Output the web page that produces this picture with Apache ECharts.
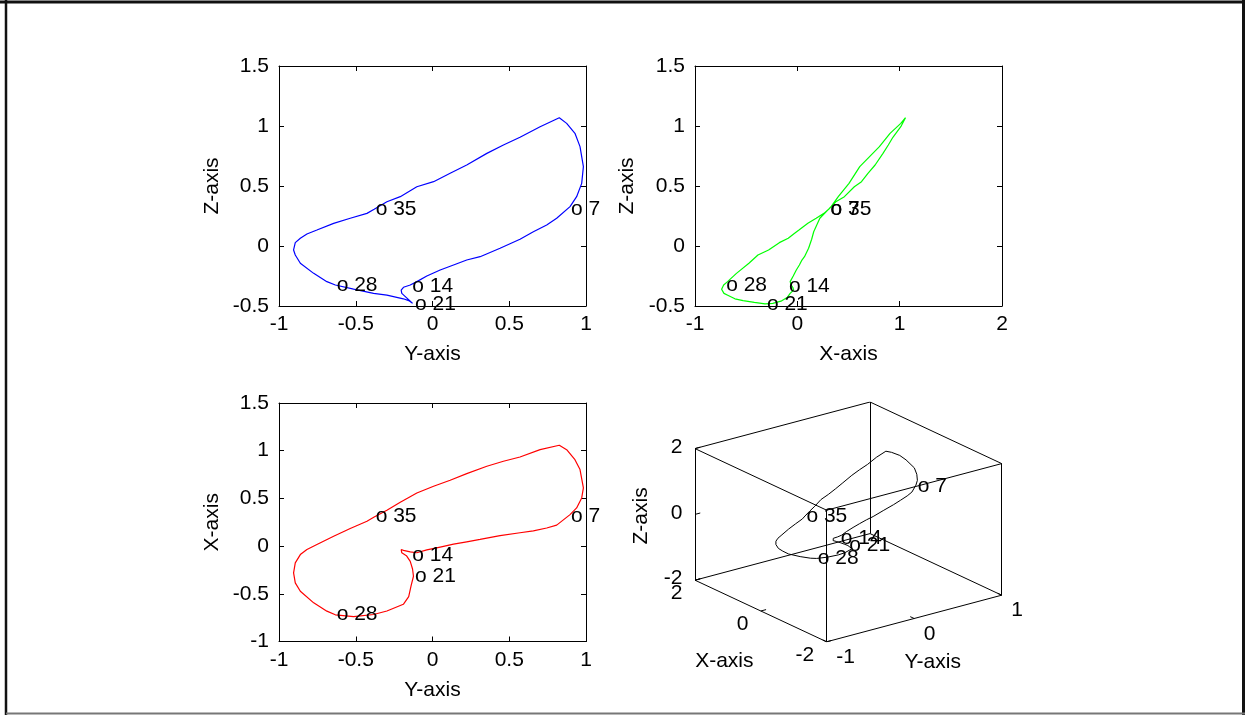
<!DOCTYPE html>
<html><head><meta charset="utf-8">
<script src="https://cdn.jsdelivr.net/npm/echarts@6/dist/echarts.min.js"></script>
<style>html,body{margin:0;padding:0;background:#fff}#c{width:1245px;height:715px}</style>
</head><body><div id="c"></div>
<script>
// ---- trajectory samples (closed loop) ----
const trajX = [0.33,0.22,0.19,0.16,0.14,0.11,0.07,0.045,0.02,-0.01,-0.04,-0.07,-0.06,-0.045,-0.036,-0.07,-0.10,-0.16,-0.24,-0.316,-0.42,-0.53,-0.61,-0.68,-0.717,-0.74,-0.72,-0.682,-0.595,-0.473,-0.385,-0.281,-0.176,-0.089,-0.036,0.016,0.103,0.184,0.260,0.306,0.376,0.46,0.557,0.627,0.69,0.76,0.837,0.889,0.934,1.011,1.057,1.011,0.906,0.802,0.61,0.505,0.40,0.33];
const trajY = [0.896,0.809,0.744,0.657,0.570,0.440,0.310,0.223,0.137,0.050,-0.037,-0.102,-0.145,-0.189,-0.204,-0.20,-0.17,-0.145,-0.13,-0.124,-0.14,-0.155,-0.19,-0.297,-0.384,-0.514,-0.633,-0.688,-0.774,-0.861,-0.894,-0.905,-0.894,-0.861,-0.818,-0.753,-0.644,-0.536,-0.427,-0.380,-0.297,-0.21,-0.102,0.007,0.115,0.223,0.354,0.462,0.570,0.701,0.826,0.874,0.928,0.961,0.983,0.972,0.939,0.896];
const trajZ = [0.328,0.231,0.175,0.119,0.056,-0.019,-0.089,-0.117,-0.158,-0.200,-0.250,-0.297,-0.325,-0.344,-0.367,-0.395,-0.43,-0.46,-0.478,-0.483,-0.47,-0.455,-0.44,-0.41,-0.395,-0.36,-0.325,-0.297,-0.228,-0.144,-0.075,-0.033,0.028,0.064,0.100,0.133,0.189,0.231,0.272,0.306,0.369,0.411,0.494,0.536,0.606,0.675,0.772,0.842,0.906,0.994,1.069,1.022,0.939,0.828,0.661,0.522,0.411,0.328];

// ---- labelled samples ----
const markNames = ['7','14','21','28','35'];
const markX = [0.31,-0.097,-0.312,-0.71,0.31];
const markY = [0.892,-0.141,-0.124,-0.634,-0.38];
const markZ = [0.306,-0.339,-0.483,-0.327,0.306];

// ---- 3-D box ranges and ticks ----
const box3X = [-2, 2], box3Y = [-1, 1], box3Z = [-2, 2];
const ticks3X = [-2, 0, 2], ticks3Y = [-1, 0, 1], ticks3Z = [-2, 0, 2];

const FONT = '"Liberation Sans", Arial, Helvetica, sans-serif';
const FS = 21;

// orthographic view of the normalised box (screen units, v upward)
const VIEW = {ux: -65.8, uy: 87.5, vx: 30.8, vy: 23.3, vz: 65.8};
function proj(x, y, z) {
  const nx = (x - (box3X[0] + box3X[1]) / 2) / ((box3X[1] - box3X[0]) / 2);
  const ny = (y - (box3Y[0] + box3Y[1]) / 2) / ((box3Y[1] - box3Y[0]) / 2);
  const nz = (z - (box3Z[0] + box3Z[1]) / 2) / ((box3Z[1] - box3Z[0]) / 2);
  return [VIEW.ux * nx + VIEW.uy * ny, VIEW.vx * nx + VIEW.vy * ny + VIEW.vz * nz];
}
const uMax = Math.abs(VIEW.ux) + Math.abs(VIEW.uy);
const vMax = Math.abs(VIEW.vx) + Math.abs(VIEW.vy) + Math.abs(VIEW.vz);

const chart = echarts.init(document.getElementById('c'), null, {renderer: 'canvas'});

const txt = {color: '#000', fontSize: FS, fontFamily: FONT, opacity: 1, textBorderWidth: 0};

function axisPair(dim, gi, min, max, interval, name, gap) {
  const main = {
    type: 'value', gridIndex: gi, min, max, interval,
    position: dim === 'x' ? 'bottom' : 'left',
    axisLine: {show: true, onZero: false, lineStyle: {color: '#000', width: 1}},
    axisTick: {show: true, inside: true, length: 5, lineStyle: {color: '#000'}},
    axisLabel: {show: true, margin: dim === 'x' ? 8 : 10, ...txt, showMinLabel: true, showMaxLabel: true},
    splitLine: {show: false},
    name, nameLocation: 'middle', nameGap: gap, nameTextStyle: {...txt}
  };
  const other = {
    type: 'value', gridIndex: gi, min, max, interval,
    position: dim === 'x' ? 'top' : 'right',
    axisLine: {show: true, onZero: false, lineStyle: {color: '#000', width: 1}},
    axisTick: {show: true, inside: true, length: 5, lineStyle: {color: '#000'}},
    axisLabel: {show: false}, splitLine: {show: false}
  };
  return [main, other];
}

const xAxes = [
  ...axisPair('x', 0, -1, 1, 0.5, 'Y-axis', 38),
  ...axisPair('x', 1, -1, 2, 1, 'X-axis', 38),
  ...axisPair('x', 2, -1, 1, 0.5, 'Y-axis', 38),
  {type: 'value', gridIndex: 3, min: -uMax, max: uMax, show: false}
];
const yAxes = [
  ...axisPair('y', 0, -0.5, 1.5, 0.5, 'Z-axis', 56),
  ...axisPair('y', 1, -0.5, 1.5, 0.5, 'Z-axis', 57),
  ...axisPair('y', 2, -1, 1.5, 0.5, 'X-axis', 56),
  {type: 'value', gridIndex: 3, min: -vMax, max: vMax, show: false}
];

function curve(xi, yi, xs, ys, color) {
  return {type: 'line', xAxisIndex: xi, yAxisIndex: yi, data: xs.map((v, i) => [v, ys[i]]),
    showSymbol: false, symbol: 'none', lineStyle: {color, width: 1.2}, silent: true, animation: false, z: 2};
}
function marks(xi, yi, data) {
  return {type: 'scatter', xAxisIndex: xi, yAxisIndex: yi, data, symbolSize: 1,
    itemStyle: {color: 'rgba(0,0,0,0)'}, animation: false, silent: true, z: 5,
    label: {show: true, position: 'right', distance: 1, formatter: p => 'o ' + p.name,
      align: 'left', verticalAlign: 'middle', ...txt}};
}
const mk = (xs, ys) => markNames.map((n, i) => ({name: n, value: [xs[i], ys[i]]}));

// 3-D pieces
const corners = [];
for (const x of box3X) for (const y of box3Y) for (const z of box3Z) corners.push([x, y, z]);
const edges = [];
for (let i = 0; i < corners.length; i++) for (let j = i + 1; j < corners.length; j++) {
  const a = corners[i], b = corners[j];
  const diff = (a[0] !== b[0]) + (a[1] !== b[1]) + (a[2] !== b[2]);
  if (diff === 1) edges.push({coords: [proj(...a), proj(...b)]});
}
const tickSegs = [];
ticks3X.forEach(t => tickSegs.push({coords: [proj(t, box3Y[0], box3Z[0]), proj(t, box3Y[0] + 0.06, box3Z[0])]}));
ticks3Y.forEach(t => tickSegs.push({coords: [proj(box3X[0], t, box3Z[0]), proj(box3X[0] + 0.12, t, box3Z[0])]}));
ticks3Z.forEach(t => tickSegs.push({coords: [proj(box3X[1], box3Y[0], t), proj(box3X[1], box3Y[0] + 0.06, t)]}));

function textPts(items) {
  return {type: 'scatter', xAxisIndex: 6, yAxisIndex: 6, symbolSize: 1, itemStyle: {color: 'rgba(0,0,0,0)'},
    animation: false, silent: true, z: 6,
    data: items.map(it => ({value: it.p, name: it.t,
      label: {show: true, formatter: it.t, position: it.off, align: it.align, verticalAlign: 'middle', rotate: it.rot || 0, ...txt}}))};
}
const tickTexts = [
  ...ticks3Z.map(t => ({p: proj(box3X[1], box3Y[0], t), t: String(t), off: [-12, -1], align: 'right'})),
  ...ticks3X.map(t => ({p: proj(t, box3Y[0], box3Z[0]), t: String(t), off: [-12, 14], align: 'right'})),
  ...ticks3Y.map(t => ({p: proj(box3X[0], t, box3Z[0]), t: String(t), off: [10, 16], align: 'left'})),
  {p: proj(box3X[1], box3Y[0], 0), t: 'Z-axis', off: [-53, 2], align: 'center', rot: 90},
  {p: proj(0, box3Y[0], box3Z[0]), t: 'X-axis', off: [-36, 51], align: 'center'},
  {p: proj(box3X[0], 0, box3Z[0]), t: 'Y-axis', off: [19, 44], align: 'center'}
];

const traj3 = trajX.map((x, i) => proj(x, trajY[i], trajZ[i]));
const mark3 = markNames.map((n, i) => ({name: n, value: proj(markX[i], markY[i], markZ[i])}));

const option = {
  backgroundColor: '#fff',
  animation: false,
  grid: [
    {left: 279, top: 66, width: 307, height: 240, show: false},
    {left: 695, top: 66, width: 307, height: 240, show: false},
    {left: 279, top: 403, width: 307, height: 238.5, show: false},
    {left: 695, top: 402, width: 306.7, height: 239.8, show: false}
  ],
  xAxis: xAxes,
  yAxis: yAxes,
  series: [
    curve(0, 0, trajY, trajZ, '#0000ff'),
    marks(0, 0, mk(markY, markZ)),
    curve(2, 2, trajX, trajZ, '#00ff00'),
    marks(2, 2, mk(markX, markZ)),
    curve(4, 4, trajY, trajX, '#ff0000'),
    marks(4, 4, mk(markY, markX)),
    {type: 'lines', coordinateSystem: 'cartesian2d', xAxisIndex: 6, yAxisIndex: 6, data: edges,
      lineStyle: {color: '#000', width: 1, opacity: 1}, silent: true, animation: false, z: 1},
    {type: 'lines', coordinateSystem: 'cartesian2d', xAxisIndex: 6, yAxisIndex: 6, data: tickSegs,
      lineStyle: {color: '#000', width: 1, opacity: 1}, silent: true, animation: false, z: 1},
    {type: 'line', xAxisIndex: 6, yAxisIndex: 6, data: traj3, showSymbol: false, symbol: 'none',
      lineStyle: {color: '#000', width: 1}, silent: true, animation: false, z: 2},
    marks(6, 6, mark3),
    textPts(tickTexts)
  ],
  graphic: [
    {type: 'line', shape: {x1: 0, y1: 2, x2: 1245, y2: 2}, style: {stroke: '#111', lineWidth: 3}, silent: true},
    {type: 'line', shape: {x1: 6, y1: 0, x2: 6, y2: 715}, style: {stroke: '#111', lineWidth: 2.5}, silent: true},
    {type: 'line', shape: {x1: 1243.5, y1: 0, x2: 1243.5, y2: 715}, style: {stroke: '#111', lineWidth: 3}, silent: true},
    {type: 'line', shape: {x1: 6, y1: 713.5, x2: 1245, y2: 713.5}, style: {stroke: '#777', lineWidth: 2}, silent: true}
  ]
};
chart.setOption(option);
</script></body></html>
